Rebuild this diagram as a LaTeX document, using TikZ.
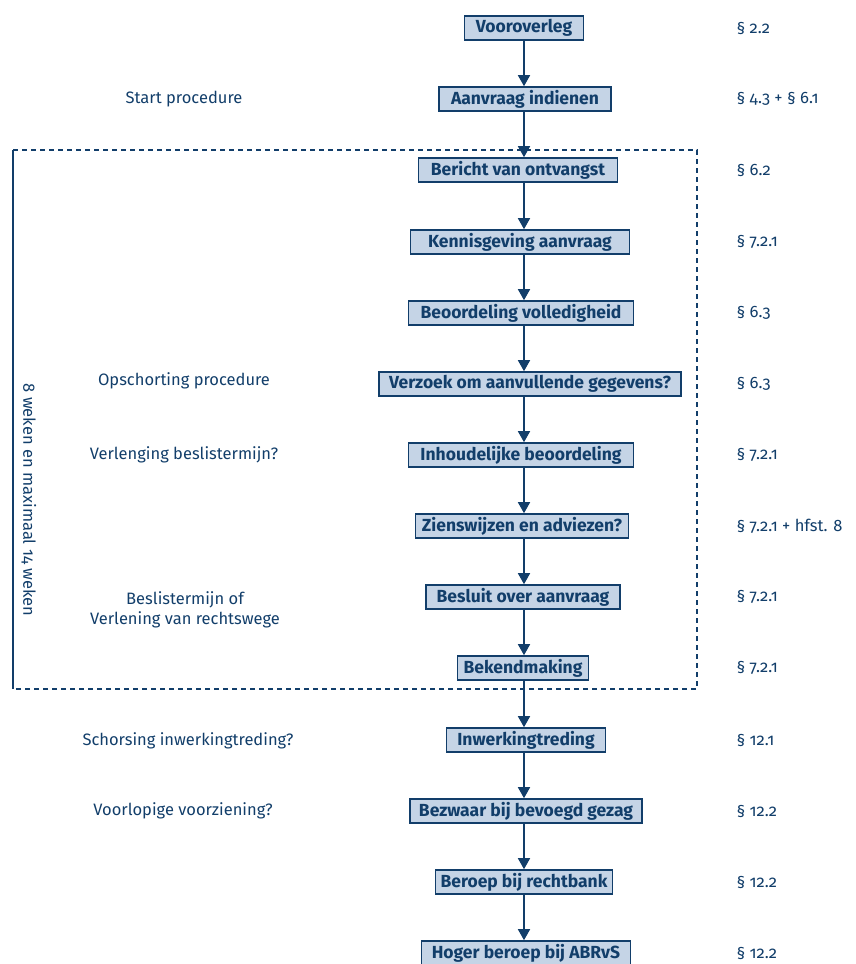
\documentclass[tikz,border=0pt]{standalone}
\usepackage{fontspec}
\setmainfont{Fira Sans}[Numbers=OldStyle]
\usetikzlibrary{arrows.meta}
\definecolor{rijksblauw}{RGB}{18,62,106}
\definecolor{lichtblauw}{RGB}{197,212,230}

\begin{document}
\begin{tikzpicture}[
    x=1pt, y=-1pt,
    font=\fontsize{16.5}{20}\selectfont, text=rijksblauw,
    stap/.style   ={draw=rijksblauw, fill=lichtblauw, line width=1.6pt, minimum height=24pt, inner ysep=0pt, font=\fontsize{17.5}{20}\selectfont\bfseries},
    pijl/.style   ={-{Triangle[length=11pt,width=12pt]}, line width=1.6pt, draw=rijksblauw},
    toel/.style   ={align=center},
    wetref/.style ={anchor=west},
  ]
  \useasboundingbox (0,0) rectangle (856,964);
  % termijn-kader
  \draw[rijksblauw, line width=2pt, dash pattern=on 5pt off 4pt] (13,150) -- (697,150) -- (697,689) -- (13,689);
  \draw[rijksblauw, line width=2.4pt] (13,150) -- (13,689);
  \node[rotate=-90] (termijn) at (29,500) {8 weken en maximaal 14 weken};
  % stappen
  \node[stap, minimum width=119pt] (vooroverleg) at (524, 28) {Vooroverleg};
  \node[stap, minimum width=172pt] (aanvraag)    at (525, 99) {Aanvraag indienen};
  \node[stap, minimum width=199pt] (ontvangst)   at (518,170) {Bericht van ontvangst};
  \node[stap, minimum width=219pt] (kennisgev)   at (520,242) {Kennisgeving aanvraag};
  \node[stap, minimum width=225pt] (volledig)    at (521,313) {Beoordeling volledigheid};
  \node[stap, minimum width=302pt] (verzoek)     at (530,384) {Verzoek om aanvullende gegevens?};
  \node[stap, minimum width=225pt] (inhoud)      at (521,455) {Inhoudelijke beoordeling};
  \node[stap, minimum width=213pt] (zienswijzen) at (522,526) {Zienswijzen en adviezen?};
  \node[stap, minimum width=194pt] (besluit)     at (523,597) {Besluit over aanvraag};
  \node[stap, minimum width=131pt] (bekend)      at (523,668) {Bekendmaking};
  \node[stap, minimum width=159pt] (inwerking)   at (526,740) {Inwerkingtreding};
  \node[stap, minimum width=232pt] (bezwaar)     at (526,811) {Bezwaar bij bevoegd gezag};
  \node[stap, minimum width=177pt] (beroep)      at (524,882) {Beroep bij rechtbank};
  \node[stap, minimum width=209pt] (hoger)       at (526,953) {Hoger beroep bij ABRvS};
  \draw[pijl] (vooroverleg) -- (vooroverleg |- aanvraag.north);
  \draw[pijl] (aanvraag.south -| vooroverleg) -- (vooroverleg |- ontvangst.north);
  \draw[pijl] (ontvangst.south -| vooroverleg) -- (vooroverleg |- kennisgev.north);
  \draw[pijl] (kennisgev.south -| vooroverleg) -- (vooroverleg |- volledig.north);
  \draw[pijl] (volledig.south -| vooroverleg) -- (vooroverleg |- verzoek.north);
  \draw[pijl] (verzoek.south -| vooroverleg) -- (vooroverleg |- inhoud.north);
  \draw[pijl] (inhoud.south -| vooroverleg) -- (vooroverleg |- zienswijzen.north);
  \draw[pijl] (zienswijzen.south -| vooroverleg) -- (vooroverleg |- besluit.north);
  \draw[pijl] (besluit.south -| vooroverleg) -- (vooroverleg |- bekend.north);
  \draw[pijl] (bekend.south -| vooroverleg) -- (vooroverleg |- inwerking.north);
  \draw[pijl] (inwerking.south -| vooroverleg) -- (vooroverleg |- bezwaar.north);
  \draw[pijl] (bezwaar.south -| vooroverleg) -- (vooroverleg |- beroep.north);
  \draw[pijl] (beroep.south -| vooroverleg) -- (vooroverleg |- hoger.north);
  % toelichting links
  \node[toel] (start)      at (184, 99) {Start procedure};
  \node[toel] (opschort)   at (184,381) {Opschorting procedure};
  \node[toel] (verlenging) at (184,455) {Verlenging beslistermijn?};
  \node[toel] (termijnof)  at (185,610) {Beslistermijn of\\Verlening van rechtswege};
  \node[toel] (schorsing)  at (188,741) {Schorsing inwerkingtreding?};
  \node[toel] (voorziening) at (183,811) {Voorlopige voorziening?};
  % paragrafen rechts
  \node[wetref] (ref1)  at (733, 28) {§ 2.2};
  \node[wetref] (ref2)  at (733, 99) {§ 4.3 + § 6.1};
  \node[wetref] (ref3)  at (733,170) {§ 6.2};
  \node[wetref] (ref4)  at (733,242) {§ 7.2.1};
  \node[wetref] (ref5)  at (733,313) {§ 6.3};
  \node[wetref] (ref6)  at (733,384) {§ 6.3};
  \node[wetref] (ref7)  at (733,455) {§ 7.2.1};
  \node[wetref] (ref8)  at (733,526) {§ 7.2.1 + hfst. 8};
  \node[wetref] (ref9)  at (733,597) {§ 7.2.1};
  \node[wetref] (ref10) at (733,668) {§ 7.2.1};
  \node[wetref] (ref11) at (733,740) {§ 12.1};
  \node[wetref] (ref12) at (733,811) {§ 12.2};
  \node[wetref] (ref13) at (733,882) {§ 12.2};
  \node[wetref] (ref14) at (733,953) {§ 12.2};
\end{tikzpicture}
\end{document}
